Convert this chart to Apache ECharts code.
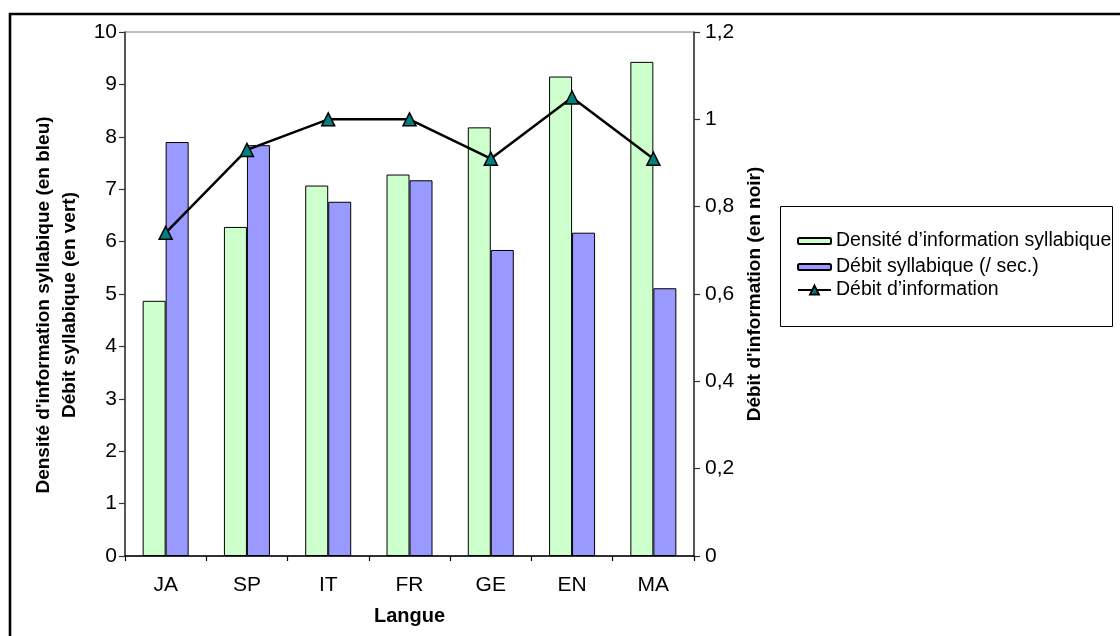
<!DOCTYPE html>
<html>
<head>
<meta charset="utf-8">
<script src="https://cdn.jsdelivr.net/npm/echarts@6/dist/echarts.min.js"></script>
<style>
  html, body { margin: 0; padding: 0; background: #fff; }
  #chart { width: 1120px; height: 636px; }
</style>
</head>
<body>
<div id="chart"></div>
<script>
// Languages on the category axis
const langues = ['JA', 'SP', 'IT', 'FR', 'GE', 'EN', 'MA'];
// Syllabic information density (green bars, left axis)
const densiteInfo = [4.87, 6.28, 7.07, 7.28, 8.18, 9.15, 9.43];
// Syllabic rate per second (blue bars, left axis)
const debitSyllabique = [7.90, 7.84, 6.76, 7.17, 5.84, 6.17, 5.11];
// Information rate (black line, right axis)
const debitInformation = [0.74, 0.93, 1.00, 1.00, 0.91, 1.05, 0.91];

const nomDensite = 'Densité d\u2019information syllabique';
const nomSyllabique = 'Débit syllabique (/ sec.)';
const nomInformation = 'Débit d\u2019information';

const FONT = "'Liberation Sans', Arial, sans-serif";

const chart = echarts.init(document.getElementById('chart'), null, { renderer: 'canvas' });

const labelStyle = { color: '#000', fontFamily: FONT, fontSize: 21 };
const legendText = { fontFamily: FONT, fontSize: 19.5, color: '#000', lineHeight: 20 };

chart.setOption({
  backgroundColor: '#fff',
  animation: false,
  textStyle: { fontFamily: FONT, color: '#000' },
  grid: {
    left: 125, right: 426, top: 32, bottom: 80,
    show: true, borderColor: '#808080', borderWidth: 1, backgroundColor: 'transparent'
  },
  graphic: [{
    // frame around the chart (top and left edges)
    type: 'polyline',
    shape: { points: [[10, 660], [10, 14], [1140, 14]] },
    style: { stroke: '#000', lineWidth: 2.6, fill: null },
    silent: true
  }, {
    // legend box
    type: 'rect',
    shape: { x: 780.5, y: 206.5, width: 332, height: 120 },
    style: { stroke: '#000', lineWidth: 1, fill: '#fff' },
    z: -1,
    silent: true
  }],
  legend: [{
    data: [nomDensite, nomSyllabique],
    orient: 'vertical',
    left: 797, top: 231,
    padding: 0,
    itemWidth: 33, itemHeight: 6, itemGap: 6,
    textStyle: legendText,
    selectedMode: false
  }, {
    data: [nomInformation],
    orient: 'vertical',
    left: 797, top: 280,
    padding: 0,
    itemWidth: 33, itemHeight: 11,
    textStyle: legendText,
    selectedMode: false
  }],
  xAxis: {
    type: 'category',
    data: langues,
    boundaryGap: true,
    name: 'Langue',
    nameLocation: 'middle',
    nameGap: 50,
    nameTextStyle: { fontFamily: FONT, fontSize: 20, fontWeight: 'bold', color: '#000' },
    axisLine: { lineStyle: { color: '#000', width: 1.5 } },
    axisTick: { show: true, length: 5, inside: false, lineStyle: { color: '#000', width: 1.2 } },
    axisLabel: Object.assign({ margin: 19 }, labelStyle),
    splitLine: { show: false }
  },
  yAxis: [{
    type: 'value',
    position: 'left',
    min: 0, max: 10, interval: 1,
    name: 'Densité d\'information syllabique (en bleu)\nDébit syllabique (en vert)',
    nameLocation: 'middle',
    nameGap: 38,
    nameTextStyle: {
      fontFamily: FONT, fontSize: 19, fontWeight: 'bold', color: '#000',
      lineHeight: 26, align: 'center', padding: [0, 22, 0, 0]
    },
    axisLine: { show: true, lineStyle: { color: '#333', width: 1.5 } },
    axisTick: { show: true, length: 6, lineStyle: { color: '#333', width: 1.2 } },
    axisLabel: Object.assign({ margin: 8, padding: [8, 0, 0, 0] }, labelStyle),
    splitLine: { show: false }
  }, {
    type: 'value',
    position: 'right',
    min: 0, max: 1.2, interval: 0.2,
    name: 'Débit d\'information (en noir)',
    nameLocation: 'middle',
    nameGap: 50,
    nameTextStyle: { fontFamily: FONT, fontSize: 19, fontWeight: 'bold', color: '#000' },
    axisLine: { show: true, lineStyle: { color: '#333', width: 1.5 } },
    axisTick: { show: true, length: 6, lineStyle: { color: '#333', width: 1.2 } },
    axisLabel: Object.assign({
      margin: 11, padding: [8, 0, 0, 0],
      formatter: v => String(Math.round(v * 10) / 10).replace('.', ',')
    }, labelStyle),
    splitLine: { show: false }
  }],
  series: [{
    name: nomDensite,
    type: 'bar',
    yAxisIndex: 0,
    data: densiteInfo,
    barWidth: 23,
    barGap: '0%',
    itemStyle: { color: '#CCFFCC', borderColor: '#000', borderWidth: 1 }
  }, {
    name: nomSyllabique,
    type: 'bar',
    yAxisIndex: 0,
    data: debitSyllabique,
    barWidth: 23,
    barGap: '0%',
    itemStyle: { color: '#9999FF', borderColor: '#000', borderWidth: 1 }
  }, {
    name: nomInformation,
    type: 'line',
    yAxisIndex: 1,
    data: debitInformation,
    symbol: 'triangle',
    symbolSize: 13,
    showAllSymbol: true,
    lineStyle: { color: '#000', width: 2.5 },
    itemStyle: { color: '#008080', borderColor: '#000', borderWidth: 1.5 },
    z: 5
  }]
});
</script>
</body>
</html>
